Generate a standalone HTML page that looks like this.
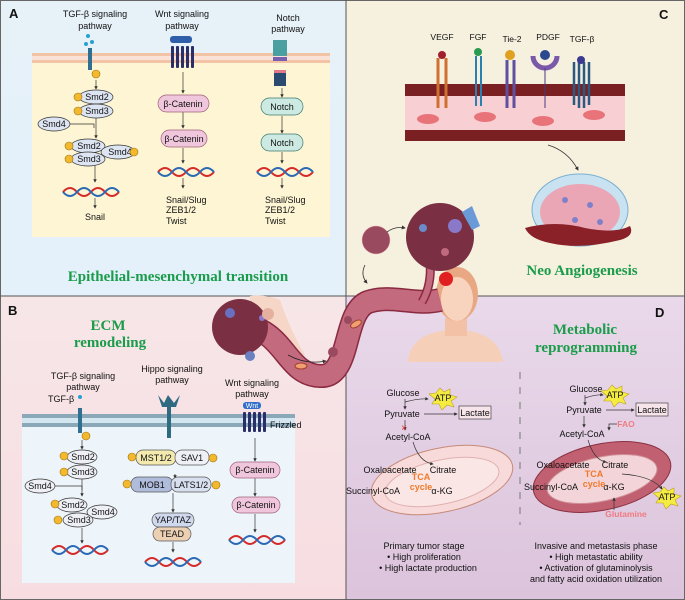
<!DOCTYPE html>
<html><head><meta charset="utf-8"><style>
html,body{margin:0;padding:0;background:#fff}
svg{display:block}
text{font-family:"Liberation Sans",sans-serif;fill:#111}
.t{font-size:9px}
.s{font-size:8.5px}
.g{font-family:"Liberation Serif",serif;font-weight:bold;fill:#1a9c4a;font-size:15px}
.L{font-family:"Liberation Sans",sans-serif;font-weight:bold;font-size:13px}
</style></head><body>
<svg width="685" height="600" viewBox="0 0 685 600" xmlns="http://www.w3.org/2000/svg">
<defs>
<linearGradient id="gA" x1="0" y1="0" x2="0" y2="1"><stop offset="0" stop-color="#e6f1f8"/><stop offset="1" stop-color="#e4f1fb"/></linearGradient>
<linearGradient id="gB" x1="0" y1="0" x2="0" y2="1"><stop offset="0" stop-color="#f7e6e8"/><stop offset="1" stop-color="#f7dde1"/></linearGradient>
<linearGradient id="gD" x1="0" y1="0" x2="0" y2="1"><stop offset="0" stop-color="#e9d9ea"/><stop offset="1" stop-color="#dcc4dc"/></linearGradient>
<marker id="ar" markerWidth="5" markerHeight="5" refX="4" refY="2.5" orient="auto"><path d="M0,0L5,2.5L0,5z" fill="#333"/></marker>
<g id="dna"><path d="M0,0 q7,-8 14,0 t14,0 t14,0 t14,0" fill="none" stroke="#d42a2a" stroke-width="2"/><path d="M0,0 q7,8 14,0 t14,0 t14,0 t14,0" fill="none" stroke="#2a6ab4" stroke-width="2"/></g>
<g id="p"><circle r="4" fill="#f2b92e" stroke="#a07010" stroke-width=".6"/></g>
</defs>
<rect x="0" y="0" width="346" height="296" fill="url(#gA)"/>
<rect x="346" y="0" width="339" height="296" fill="#f6f0df"/>
<rect x="0" y="296" width="346" height="304" fill="url(#gB)"/>
<rect x="346" y="296" width="339" height="304" fill="url(#gD)"/>
<rect x="0.5" y="0.5" width="684" height="599" fill="none" stroke="#666"/>
<line x1="346" y1="0" x2="346" y2="600" stroke="#555"/>
<line x1="0" y1="296" x2="685" y2="296" stroke="#555"/>

<!-- A -->
<rect x="32" y="54" width="298" height="183" fill="#fdf5d3"/>
<rect x="32" y="53" width="298" height="3" fill="#f3c3a6"/>
<rect x="32" y="60" width="298" height="3" fill="#f3c3a6"/>
<rect x="32" y="56" width="298" height="4" fill="#fae3d6"/>
<text class="L" x="9" y="18">A</text>
<g class="t" text-anchor="middle"><text x="95" y="17">TGF-β signaling</text><text x="95" y="29">pathway</text>
<text x="182" y="17">Wnt signaling</text><text x="182" y="29">pathway</text>
<text x="288" y="21">Notch</text><text x="288" y="32">pathway</text></g>
<rect x="88" y="48" width="4" height="22" fill="#2f6f8f"/><circle cx="88" cy="36" r="2" fill="#2aa0d0"/><circle cx="92" cy="42" r="2" fill="#2aa0d0"/><circle cx="86" cy="44" r="2" fill="#2aa0d0"/><use href="#p" x="96" y="74"/>
<rect x="170" y="36" width="22" height="7" rx="3" fill="#2f5fa8"/><g fill="#2a2f6a"><rect x="171" y="46" width="3" height="22" rx="1"/><rect x="176" y="46" width="3" height="22" rx="1"/><rect x="181" y="46" width="3" height="22" rx="1"/><rect x="186" y="46" width="3" height="22" rx="1"/><rect x="191" y="46" width="3" height="22" rx="1"/></g>
<rect x="273" y="40" width="14" height="16" fill="#4aa0a0"/><rect x="273" y="57" width="14" height="4" fill="#7a60b0"/><rect x="274" y="70" width="12" height="16" fill="#2a4a70"/><rect x="274" y="70" width="12" height="3" fill="#e07a8a"/>
<g stroke="#333" stroke-width=".7" marker-end="url(#ar)"><line x1="96" y1="80" x2="96" y2="89"/><line x1="96" y1="117" x2="96" y2="138"/><line x1="95" y1="162" x2="95" y2="182"/><line x1="95" y1="198" x2="95" y2="208"/>
<line x1="183" y1="72" x2="183" y2="93"/><line x1="183" y1="112" x2="183" y2="128"/><line x1="183" y1="148" x2="183" y2="163"/><line x1="183" y1="178" x2="183" y2="188"/>
<line x1="282" y1="88" x2="282" y2="97"/><line x1="282" y1="116" x2="282" y2="133"/><line x1="282" y1="152" x2="282" y2="163"/><line x1="282" y1="178" x2="282" y2="188"/></g>
<path d="M70,124 L94,124 L94,128" fill="none" stroke="#333" stroke-width=".7"/>
<g fill="#dde4f2" stroke="#333" stroke-width=".7">
<ellipse cx="96" cy="97" rx="17" ry="7"/><ellipse cx="96" cy="111" rx="17" ry="7"/><ellipse cx="54" cy="124" rx="16" ry="7"/>
<ellipse cx="88" cy="146" rx="17" ry="7"/><ellipse cx="118" cy="152" rx="17" ry="7"/><ellipse cx="88" cy="159" rx="17" ry="7"/></g>
<g class="t" text-anchor="middle"><text x="97" y="100">Smd2</text><text x="97" y="114">Smd3</text><text x="54" y="127">Smd4</text><text x="89" y="149">Smd2</text><text x="120" y="155">Smd4</text><text x="89" y="162">Smd3</text></g>
<use href="#p" x="78" y="97"/><use href="#p" x="78" y="111"/><use href="#p" x="69" y="146"/><use href="#p" x="69" y="159"/><use href="#p" x="134" y="152"/>
<use href="#dna" x="63" y="192"/><use href="#dna" x="158" y="172"/><use href="#dna" x="257" y="172"/>
<text class="t" x="95" y="220" text-anchor="middle">Snail</text>
<g fill="#f0c6dc" stroke="#a0607a" stroke-width=".7"><rect x="158" y="95" width="51" height="17" rx="8.5"/><rect x="161" y="130" width="46" height="17" rx="8.5"/></g>
<g fill="#cdeae2" stroke="#3a7a70" stroke-width=".7"><rect x="261" y="98" width="42" height="17" rx="8.5"/><rect x="261" y="134" width="42" height="17" rx="8.5"/></g>
<g class="t" text-anchor="middle"><text x="183" y="107">β-Catenin</text><text x="184" y="142">β-Catenin</text><text x="282" y="110">Notch</text><text x="282" y="146">Notch</text></g>
<g class="t"><text x="166" y="203">Snail/Slug</text><text x="166" y="213">ZEB1/2</text><text x="166" y="224">Twist</text><text x="265" y="203">Snail/Slug</text><text x="265" y="213">ZEB1/2</text><text x="265" y="224">Twist</text></g>
<text class="g" x="178" y="281" text-anchor="middle">Epithelial-mesenchymal transition</text>

<!-- C -->
<text class="L" x="659" y="19">C</text>
<rect x="405" y="84" width="220" height="12" fill="#7a1f22"/><rect x="405" y="96" width="220" height="34" fill="#f8d0d4"/><rect x="405" y="130" width="220" height="11" fill="#7a1f22"/>
<g fill="#e8747a"><ellipse cx="428" cy="119" rx="11" ry="5"/><ellipse cx="485" cy="117" rx="11" ry="5"/><ellipse cx="543" cy="121" rx="11" ry="5"/><ellipse cx="594" cy="115" rx="11" ry="5"/></g>
<g class="s" text-anchor="middle"><text x="442" y="40">VEGF</text><text x="478" y="40">FGF</text><text x="512" y="42">Tie-2</text><text x="548" y="40">PDGF</text><text x="582" y="42">TGF-β</text></g>
<g stroke="#d07030" stroke-width="3"><line x1="438" y1="58" x2="438" y2="108"/><line x1="446" y1="58" x2="446" y2="108"/></g><circle cx="442" cy="55" r="4" fill="#a02030"/>
<g stroke="#2a80b0" stroke-width="2" fill="none"><path d="M476,56 v50 M481,56 v50"/></g><circle cx="478" cy="52" r="4" fill="#2a9a50"/>
<g stroke="#6050a0" stroke-width="3"><line x1="507" y1="60" x2="507" y2="108"/><line x1="514" y1="60" x2="514" y2="108"/></g><circle cx="510" cy="55" r="5" fill="#e0a020"/>
<path d="M533,56 a12,12 0 0 0 24,0" fill="none" stroke="#7a5aa8" stroke-width="5"/><circle cx="545" cy="55" r="5" fill="#2a4a90"/><line x1="545" y1="68" x2="545" y2="108" stroke="#4a3a80"/>
<g stroke="#2a5a80" stroke-width="2.5"><line x1="574" y1="62" x2="574" y2="105"/><line x1="579" y1="62" x2="579" y2="108"/><line x1="584" y1="62" x2="584" y2="108"/><line x1="589" y1="62" x2="589" y2="105"/></g><circle cx="581" cy="60" r="4" fill="#3a3a90"/>
<path d="M548,145 q20,6 30,25" fill="none" stroke="#333" stroke-width=".8" marker-end="url(#ar)"/>
<ellipse cx="580" cy="210" rx="48" ry="36" fill="#c8e2f2" stroke="#7ab0d0"/>
<ellipse cx="580" cy="212" rx="40" ry="28" fill="#eba6b6"/>
<g fill="#8080c8"><circle cx="565" cy="200" r="3"/><circle cx="590" cy="205" r="3"/><circle cx="575" cy="220" r="3"/><circle cx="600" cy="222" r="3"/></g>
<path d="M525,228 q30,-8 60,0 q30,6 45,-2 q5,10 -10,14 q-40,10 -70,3 q-20,-4 -25,-15z" fill="#8a2028"/>
<text class="g" x="582" y="275" text-anchor="middle">Neo Angiogenesis</text>
<circle cx="376" cy="240" r="14" fill="#9a4a5e" stroke="#e0a0a8" stroke-width=".5"/>
<path d="M365,265 q-5,10 2,18" fill="none" stroke="#333" stroke-width=".8" marker-end="url(#ar)"/>
<path d="M387,232 q8,-6 18,-4" fill="none" stroke="#333" stroke-width=".8" marker-end="url(#ar)"/>

<!-- B -->
<text class="L" x="8" y="315">B</text>
<text class="g" x="108" y="330" text-anchor="middle">ECM</text><text class="g" x="110" y="347" text-anchor="middle">remodeling</text>
<rect x="22" y="415" width="273" height="168" fill="#eef5fa"/>
<rect x="22" y="414" width="273" height="4" fill="#8aa8b8"/><rect x="22" y="418" width="273" height="5" fill="#d4e6f0"/><rect x="22" y="423" width="273" height="4" fill="#8aa8b8"/>
<g class="t" text-anchor="middle"><text x="83" y="379">TGF-β signaling</text><text x="83" y="390">pathway</text><text x="172" y="372">Hippo signaling</text><text x="172" y="383">pathway</text><text x="252" y="386">Wnt signaling</text><text x="252" y="397">pathway</text></g>
<text class="t" x="48" y="402">TGF-β</text><text class="t" x="270" y="428">Frizzled</text>
<rect x="78" y="408" width="4" height="25" fill="#2f6f8f"/><circle cx="80" cy="397" r="2" fill="#2aa0d0"/><use href="#p" x="86" y="436"/>
<path d="M158,395 l6,8 l4,-8 l6,8 l6,-8 l-4,12 h-14z" fill="#2e6a80"/><rect x="167" y="405" width="4" height="33" fill="#2e6a80"/>
<rect x="243" y="402" width="18" height="7" rx="3" fill="#2f6fc8"/><g fill="#2a2f6a"><rect x="243" y="412" width="3" height="20" rx="1"/><rect x="248" y="412" width="3" height="20" rx="1"/><rect x="253" y="412" width="3" height="20" rx="1"/><rect x="258" y="412" width="3" height="20" rx="1"/><rect x="263" y="412" width="3" height="20" rx="1"/></g>
<text x="252" y="408" text-anchor="middle" style="font-size:7px;fill:#fff">Wnt</text>
<g stroke="#333" stroke-width=".7" marker-end="url(#ar)"><line x1="82" y1="440" x2="82" y2="449"/><line x1="82" y1="478" x2="82" y2="496"/><line x1="82" y1="528" x2="82" y2="543"/>
<line x1="175" y1="474" x2="175" y2="478"/><line x1="173" y1="493" x2="173" y2="512"/><line x1="173" y1="542" x2="173" y2="552"/>
<line x1="255" y1="438" x2="255" y2="461"/><line x1="255" y1="478" x2="255" y2="496"/><line x1="255" y1="514" x2="255" y2="532"/></g>
<path d="M55,486 L82,486 L82,490" fill="none" stroke="#333" stroke-width=".7"/>
<g fill="#eef0f6" stroke="#333" stroke-width=".7"><ellipse cx="82" cy="457" rx="15" ry="7"/><ellipse cx="82" cy="472" rx="15" ry="7"/><ellipse cx="40" cy="486" rx="15" ry="7"/><ellipse cx="72" cy="505" rx="15" ry="7"/><ellipse cx="102" cy="512" rx="15" ry="7"/><ellipse cx="78" cy="520" rx="15" ry="7"/></g>
<g class="t" text-anchor="middle"><text x="83" y="460">Smd2</text><text x="83" y="475">Smd3</text><text x="40" y="489">Smd4</text><text x="73" y="508">Smd2</text><text x="103" y="515">Smd4</text><text x="79" y="523">Smd3</text></g>
<use href="#p" x="64" y="456"/><use href="#p" x="64" y="472"/><use href="#p" x="55" y="504"/><use href="#p" x="58" y="520"/>
<use href="#dna" x="52" y="550"/><use href="#dna" x="145" y="562"/><use href="#dna" x="229" y="540"/>
<rect x="136" y="450" width="40" height="15" rx="7" fill="#f4eab0" stroke="#555" stroke-width=".7"/><rect x="175" y="450" width="34" height="15" rx="7" fill="#eef0f6" stroke="#555" stroke-width=".7"/>
<rect x="131" y="477" width="42" height="15" rx="7" fill="#b0bcdc" stroke="#555" stroke-width=".7"/><rect x="171" y="477" width="40" height="15" rx="7" fill="#d8e0f0" stroke="#555" stroke-width=".7"/>
<rect x="152" y="513" width="42" height="14" rx="7" fill="#d0d8ee" stroke="#555" stroke-width=".7"/><rect x="153" y="527" width="38" height="14" rx="7" fill="#ecd0b4" stroke="#555" stroke-width=".7"/>
<g class="t" text-anchor="middle"><text x="156" y="461">MST1/2</text><text x="192" y="461">SAV1</text><text x="152" y="488">MOB1</text><text x="191" y="488">LATS1/2</text><text x="173" y="523">YAP/TAZ</text><text x="172" y="537">TEAD</text></g>
<use href="#p" x="132" y="457"/><use href="#p" x="213" y="458"/><use href="#p" x="127" y="484"/><use href="#p" x="216" y="485"/>
<g fill="#f0c6dc" stroke="#a0607a" stroke-width=".7"><rect x="230" y="462" width="50" height="16" rx="8"/><rect x="232" y="497" width="48" height="16" rx="8"/></g>
<g class="t" text-anchor="middle"><text x="255" y="473">β-Catenin</text><text x="256" y="508">β-Catenin</text></g>

<!-- D -->
<text class="L" x="655" y="317">D</text>
<text class="g" x="585" y="334" text-anchor="middle">Metabolic</text><text class="g" x="586" y="352" text-anchor="middle">reprogramming</text>
<line x1="520" y1="372" x2="520" y2="525" stroke="#777" stroke-dasharray="7,8"/>

<!-- central: arm, person, vessel, tumors -->
<path d="M250,296 q15,-2 30,4 q10,30 25,55 l-20,8 q-15,-25 -35,-60z" fill="#f6d6c6"/>
<path d="M408,362 q2,-28 40,-32 q50,-2 55,32z" fill="#f6cfb8"/>
<rect x="445" y="318" width="22" height="18" fill="#f3c2a6"/>
<ellipse cx="457" cy="294" rx="21" ry="27" fill="#e9a884"/><ellipse cx="457" cy="299" rx="16" ry="22" fill="#f8d4bf"/>
<path d="M240,325 C285,328 285,375 320,376 C352,378 342,312 368,302 C392,294 415,306 440,300" fill="none" stroke="#8a2a40" stroke-width="24"/>
<path d="M240,325 C285,328 285,375 320,376 C352,378 342,312 368,302 C392,294 415,306 440,300" fill="none" stroke="#c46a7e" stroke-width="21"/>
<path d="M422,302 Q432,285 430,262" fill="none" stroke="#8a2a40" stroke-width="9"/>
<path d="M422,302 Q432,285 430,262" fill="none" stroke="#c46a7e" stroke-width="6"/>
<ellipse cx="356" cy="324" rx="6" ry="3" fill="#f0a070" stroke="#a04030" transform="rotate(-30 356 324)"/>
<ellipse cx="301" cy="366" rx="6" ry="3" fill="#f0a070" stroke="#a04030"/>
<circle cx="333" cy="352" r="5" fill="#9a4a5e"/><circle cx="348" cy="320" r="4" fill="#9a4a5e"/>
<path d="M288,355 q18,10 38,6" fill="none" stroke="#222" stroke-width=".8" marker-end="url(#ar)"/>
<circle cx="440" cy="237" r="34" fill="#7a3042"/><circle cx="455" cy="226" r="7" fill="#8a78c8"/><circle cx="423" cy="228" r="4" fill="#6a8ac8"/><circle cx="445" cy="252" r="4" fill="#c06a80"/>
<path d="M462,212 l10,-6 l8,20 l-8,4z" fill="#6a9ad8"/>
<circle cx="446" cy="279" r="7" fill="#e02020"/>
<circle cx="240" cy="327" r="28" fill="#7a3042"/><circle cx="230" cy="313" r="5" fill="#6a70c0"/><circle cx="250" cy="356" r="5" fill="#6a80c0"/><circle cx="262" cy="318" r="3" fill="#8a78c8"/>
<circle cx="268" cy="314" r="6" fill="#e6b0a0"/>

<!-- left metabolism -->
<ellipse cx="442" cy="480" rx="72" ry="32" fill="#f8dada" stroke="#c68a78" transform="rotate(-12 442 480)"/>
<ellipse cx="442" cy="482" rx="58" ry="22" fill="#fbe6e6" stroke="#e0b0b0" transform="rotate(-12 442 482)"/>
<g class="t" text-anchor="middle"><text x="403" y="396">Glucose</text><text x="402" y="417">Pyruvate</text><text x="408" y="440">Acetyl-CoA</text><text x="390" y="473">Oxaloacetate</text><text x="443" y="473">Citrate</text><text x="373" y="494">Succinyl-CoA</text><text x="442" y="494">α-KG</text></g>
<text x="421" y="480" text-anchor="middle" style="font-size:9px;font-weight:bold;fill:#f07a2a">TCA</text><text x="421" y="490" text-anchor="middle" style="font-size:9px;font-weight:bold;fill:#f07a2a">cycle</text>
<polygon points="440,388 444,392 450,389 450,395 457,397 451,401 454,407 447,405 442,410 439,404 432,404 435,399 429,394 436,393" fill="#f4ec40" stroke="#c0a020" stroke-width=".6"/><text x="443" y="401" text-anchor="middle" style="font-size:9px">ATP</text>
<rect x="459" y="406" width="32" height="13" fill="#f7e4ea" stroke="#444" stroke-width=".7"/><text class="t" x="475" y="416" text-anchor="middle">Lactate</text>
<g stroke="#333" stroke-width=".7" fill="none" marker-end="url(#ar)"><path d="M405,399 v10"/><path d="M405,402 q15,-4 23,-3"/><path d="M424,414 h33"/><path d="M405,420 v10"/><path d="M413,442 q6,20 20,22"/></g>
<text x="404" y="431" text-anchor="middle" style="font-size:10px;fill:#e03030">×</text>
<g class="t" text-anchor="middle"><text x="424" y="549">Primary tumor stage</text><text x="424" y="560">• High proliferation</text><text x="428" y="571">• High lactate production</text></g>
<!-- right metabolism -->
<ellipse cx="602" cy="477" rx="70" ry="33" fill="#c06070" stroke="#8a3040" transform="rotate(-12 602 477)"/>
<ellipse cx="602" cy="479" rx="56" ry="22" fill="#f3d4d8" stroke="#d09098" transform="rotate(-12 602 479)"/>
<g class="t" text-anchor="middle"><text x="586" y="392">Glucose</text><text x="584" y="413">Pyruvate</text><text x="582" y="437">Acetyl-CoA</text><text x="563" y="468">Oxaloacetate</text><text x="615" y="468">Citrate</text><text x="551" y="490">Succinyl-CoA</text><text x="614" y="490">α-KG</text></g>
<text x="594" y="477" text-anchor="middle" style="font-size:9px;font-weight:bold;fill:#f07a2a">TCA</text><text x="594" y="487" text-anchor="middle" style="font-size:9px;font-weight:bold;fill:#f07a2a">cycle</text>
<text x="626" y="427" text-anchor="middle" style="font-size:8.5px;font-weight:bold;fill:#f07a80">FAO</text>
<text x="626" y="517" text-anchor="middle" style="font-size:8.5px;font-weight:bold;fill:#f07a80">Glutamine</text>
<polygon points="612,385 616,389 622,386 622,392 629,394 623,398 626,404 619,402 614,407 611,401 604,401 607,396 601,391 608,390" fill="#f4ec40" stroke="#c0a020" stroke-width=".6"/><text x="615" y="398" text-anchor="middle" style="font-size:9px">ATP</text>
<polygon points="664,487 668,491 674,488 674,494 681,496 675,500 678,506 671,504 666,509 663,503 656,503 659,498 653,493 660,492" fill="#f4ec40" stroke="#c0a020" stroke-width=".6"/><text x="667" y="500" text-anchor="middle" style="font-size:9px">ATP</text>
<rect x="636" y="403" width="32" height="13" fill="#f7e4ea" stroke="#444" stroke-width=".7"/><text class="t" x="652" y="413" text-anchor="middle">Lactate</text>
<g stroke="#333" stroke-width=".7" fill="none" marker-end="url(#ar)"><path d="M585,395 v10"/><path d="M585,398 q12,-4 18,-3"/><path d="M606,410 h28"/><path d="M584,416 v11"/><path d="M617,424 h-8 v6"/><path d="M588,440 q6,20 18,22"/><path d="M622,474 q30,2 40,15"/><path d="M614,510 v-12"/></g>
<g class="t" text-anchor="middle"><text x="596" y="549">Invasive and metastasis phase</text><text x="596" y="560">• High metastatic ability</text><text x="596" y="571">• Activation of glutaminolysis</text><text x="596" y="582">and fatty acid oxidation utilization</text></g>
</svg>
</body></html>
